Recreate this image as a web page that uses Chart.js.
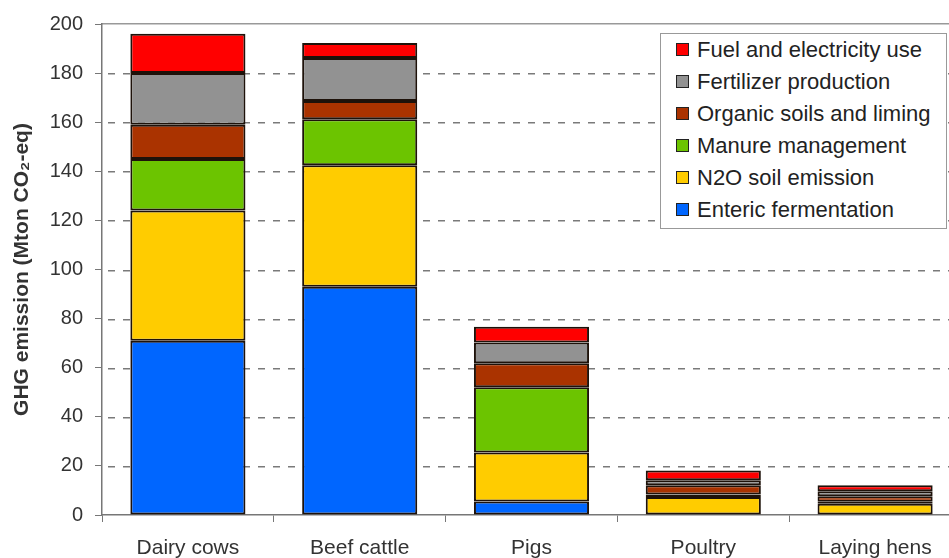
<!DOCTYPE html>
<html>
<head>
<meta charset="utf-8">
<script src="https://cdn.jsdelivr.net/npm/chart.js@4.4.0/dist/chart.umd.min.js"></script>
<style>
  html, body { margin: 0; padding: 0; background: #fff; overflow: hidden; }
  #wrap { position: relative; width: 961px; height: 558px; }
  #legend {
    position: absolute; left: 660px; top: 33px; width: 285px; height: 194px;
    border: 1px solid #999; background: #fff;
    font-family: "Liberation Sans", Arial, sans-serif; font-size: 22px; color: #222;
    box-sizing: content-box;
  }
  #legend .row { position: absolute; left: 15px; height: 26px; line-height: 26px; white-space: nowrap; }
  #legend .box {
    display: inline-block; width: 11px; height: 11px; border: 1px solid #222;
    margin-right: 8px; vertical-align: 1px;
  }
</style>
</head>
<body>
<div id="wrap">
  <canvas id="chart"></canvas>
  <div id="legend"></div>
</div>
<script>
// categories and stacked values (Mton CO2-eq), bottom segment first
const categories = ['Dairy cows', 'Beef cattle', 'Pigs', 'Poultry', 'Laying hens'];
const enteric = [71, 93, 5.5, 0, 0];
const n2oSoil = [53, 49.5, 20, 7.3, 4.6];
const manure = [21, 18.7, 26.5, 1.0, 0.8];
const organicSoils = [14, 7.4, 9.8, 3.8, 2.2];
const fertilizer = [21, 17.6, 8.5, 2.1, 2.1];
const fuel = [16, 6.1, 6.4, 3.9, 2.4];
const yTicks = [0, 20, 40, 60, 80, 100, 120, 140, 160, 180, 200];

const FONT = '"Liberation Sans", Arial, sans-serif';
const EDGE = '#1e120a';

function series(label, data, color) {
  return {
    label: label,
    data: data,
    backgroundColor: color,
    borderColor: EDGE,
    borderWidth: 2,
    borderSkipped: false,
    barPercentage: 0.67,
    categoryPercentage: 1
  };
}

const datasets = [
  series('Enteric fermentation', enteric, '#0066ff'),
  series('N2O soil emission', n2oSoil, '#ffcc00'),
  series('Manure management', manure, '#6cc400'),
  series('Organic soils and liming', organicSoils, '#aa3300'),
  series('Fertilizer production', fertilizer, '#929292'),
  series('Fuel and electricity use', fuel, '#ff0000')
];

// dashed horizontal grid lines behind the bars, placed with the y scale
// (dashes drawn one by one, setLineDash did not show up in the render)
const dashedGrid = {
  id: 'dashedGrid',
  beforeDatasetsDraw(chart) {
    const { ctx, chartArea, scales } = chart;
    const y = scales.y;
    ctx.save();
    ctx.fillStyle = '#7a7a7a';
    y.ticks.forEach((t) => {
      if (t.value === 0 || t.value === 200) return;
      const py = Math.round(y.getPixelForValue(t.value));
      for (let x = chartArea.left + 6; x < chartArea.right; x += 15) {
        ctx.fillRect(Math.round(x), py, 7, 1.5);
      }
    });
    ctx.restore();
  }
};

const chart = new Chart(document.getElementById('chart'), {
  type: 'bar',
  data: { labels: categories, datasets: datasets },
  plugins: [dashedGrid],
  options: {
    responsive: true,
    maintainAspectRatio: false,
    animation: false,
    layout: { padding: { top: 22, left: 0, right: 0, bottom: 0 } },
    plugins: {
      legend: { display: false },
      tooltip: { enabled: false }
    },
    scales: {
      x: {
        stacked: true,
        afterFit: (scale) => { scale.height = 43; },
        grid: {
          offset: true,
          drawOnChartArea: false,
          drawTicks: true,
          tickLength: 7,
          color: '#777',
          lineWidth: 1
        },
        border: { display: true, color: '#777', width: 1.5 },
        ticks: {
          color: '#333',
          padding: 14,
          font: { family: FONT, size: 21 }
        }
      },
      // only used for the solid line along the top of the plot
      xTop: {
        position: 'top',
        afterFit: (scale) => { scale.height = 0; },
        grid: { display: false },
        ticks: { display: false },
        border: { display: true, color: '#999', width: 1.5 }
      },
      y: {
        stacked: true,
        min: 0,
        max: 200,
        afterFit: (scale) => { scale.width = 102; },
        afterBuildTicks: (scale) => { scale.ticks = yTicks.map(v => ({ value: v })); },
        grid: {
          drawOnChartArea: false,
          drawTicks: true,
          tickLength: 7,
          color: '#777',
          lineWidth: 1
        },
        border: { display: true, color: '#777', width: 1.5 },
        ticks: {
          color: '#333',
          padding: 12,
          font: { family: FONT, size: 20 }
        },
        title: {
          display: true,
          text: 'GHG emission (Mton CO₂-eq)',
          color: '#333',
          padding: { top: 10, bottom: 0 },
          font: { family: FONT, size: 21, weight: 'bold' }
        }
      }
    }
  }
});

// legend box in the top right, same order as the stack (top first)
const legendEl = document.getElementById('legend');
chart.data.datasets.slice().reverse().forEach((ds, i) => {
  const row = document.createElement('div');
  row.className = 'row';
  row.style.top = (3 + i * 32) + 'px';
  const box = document.createElement('span');
  box.className = 'box';
  box.style.background = ds.backgroundColor;
  row.appendChild(box);
  row.appendChild(document.createTextNode(ds.label));
  legendEl.appendChild(row);
});
</script>
</body>
</html>
